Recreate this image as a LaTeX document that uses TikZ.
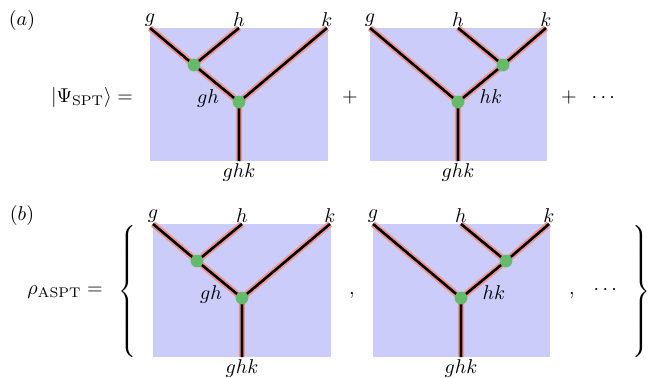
\documentclass[tikz,border=0pt]{standalone}
\usepackage{amsmath,amssymb}
\usepackage{tikz}

\definecolor{sheetblue}{RGB}{204,204,250}
\definecolor{wirepink}{RGB}{238,150,145}
\definecolor{dotgreen}{RGB}{102,187,106}

\begin{document}
\begin{tikzpicture}[x=0.5pt, y=-0.5pt,
    sheet/.style={fill=sheetblue},
    wire/.style={draw=wirepink, line width=0.95pt, double=black, double distance=1.3pt},
    junction/.style={circle, fill=dotgreen, inner sep=0pt, minimum size=6.4pt},
    leaflabel/.style={above, inner sep=0.5pt},
    rootlabel/.style={below, inner sep=1pt}]
  \useasboundingbox (0,0) rectangle (648,377);

  % the same two trees in both rows
  \foreach \p/\dx/\dy in {a/0/0, b/3/196}{
    \begin{scope}[shift={(\dx,\dy)}, name prefix=\p-]
      % left tree: (gh)k
      \fill[sheet] (150,28) rectangle (328,161);
      \coordinate (Lg) at (150,28);
      \coordinate (Lh) at (239,28);
      \coordinate (Lk) at (327,28);
      \coordinate (L1) at (194,65);
      \coordinate (L2) at (239,102);
      \coordinate (Lr) at (239,161);
      \draw[wire] (Lg) -- (L1) -- (L2) -- (Lr);
      \draw[wire] (Lh) -- (L1);
      \draw[wire] (Lk) -- (L2);
      \node[junction] (L1dot) at (L1) {};
      \node[junction] (L2dot) at (L2) {};
      \node[leaflabel] (Lglab) at (Lg) {$g$};
      \node[leaflabel] (Lhlab) at (Lh) {$h$};
      \node[leaflabel] (Lklab) at (Lk) {$k$};
      \node[rootlabel] (Lrlab) at (Lr) {$ghk$};
      \node (Lgh) at (208,98) {$gh$};

      % right tree: g(hk)
      \fill[sheet] (370,28) rectangle (547,161);
      \coordinate (Rg) at (370,28);
      \coordinate (Rh) at (458,28);
      \coordinate (Rk) at (546,28);
      \coordinate (R1) at (503,65);
      \coordinate (R2) at (458,102);
      \coordinate (Rr) at (458,161);
      \draw[wire] (Rk) -- (R1) -- (R2) -- (Rr);
      \draw[wire] (Rh) -- (R1);
      \draw[wire] (Rg) -- (R2);
      \node[junction] (R1dot) at (R1) {};
      \node[junction] (R2dot) at (R2) {};
      \node[leaflabel] (Rglab) at (Rg) {$g$};
      \node[leaflabel] (Rhlab) at (Rh) {$h$};
      \node[leaflabel] (Rklab) at (Rk) {$k$};
      \node[rootlabel] (Rrlab) at (Rr) {$ghk$};
      \node (Rhk) at (491,97) {$hk$};
    \end{scope}
  }

  % row (a)
  \node (tagA) at (22,20) {$(a)$};
  \node[anchor=base] (psi) at (92,102) {$|\Psi_{\mathrm{SPT}}\rangle =$};
  \node[anchor=base] (plusA) at (350,102) {$+$};
  \node[anchor=base] (plusB) at (569,102) {$+$};
  \node[anchor=base] (dotsA) at (605,102) {$\cdots$};

  % row (b)
  \node (tagB) at (22,215) {$(b)$};
  \node[anchor=base] (rho) at (65,294) {$\rho_{\mathrm{ASPT}} =$};
  \node (lbrace) at (129,291) {$\left\{\vrule height 37pt depth 32pt width 0pt\right.$};
  \node[anchor=base] (commaA) at (352,294) {$,$};
  \node[anchor=base] (commaB) at (572,294) {$,$};
  \node[anchor=base] (dotsB) at (607,294) {$\cdots$};
  \node (rbrace) at (640,291) {$\left.\vrule height 37pt depth 32pt width 0pt\right\}$};
\end{tikzpicture}
\end{document}
